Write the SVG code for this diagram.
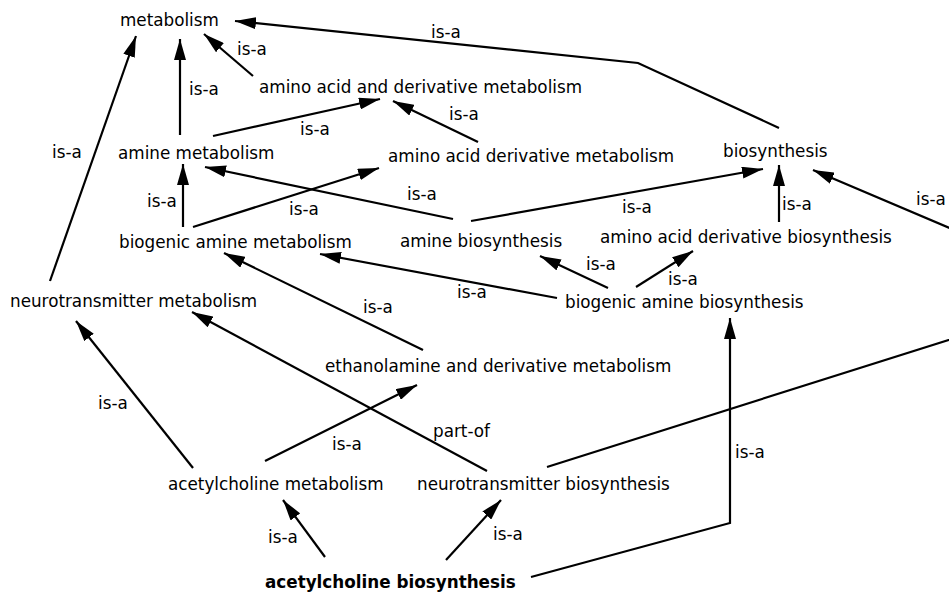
<svg xmlns="http://www.w3.org/2000/svg" width="949" height="592" viewBox="0 0 949 592">
<defs>
<marker id="arr" markerUnits="userSpaceOnUse" markerWidth="21" markerHeight="12" refX="21" refY="6" orient="auto" viewBox="0 0 21 12">
<path d="M0,0 L21,6 L0,12 z" fill="#000"/>
</marker>
<style>
text{font-family:"DejaVu Sans","Liberation Sans",sans-serif;font-size:16.8px;fill:#000}
.b{font-weight:bold}
#edges line,#edges polyline{stroke:#000;stroke-width:2.2;fill:none;marker-end:url(#arr)}
</style>
</defs>
<rect width="949" height="592" fill="#fff"/>
<g id="edges">
<line x1="253" y1="76" x2="204" y2="34"/>
<line x1="180" y1="135" x2="180" y2="39"/>
<line x1="50" y1="281" x2="136" y2="36"/>
<polyline points="779,128 638,63 235,21"/>
<line x1="213" y1="136" x2="380" y2="99"/>
<line x1="478" y1="142" x2="393" y2="101"/>
<line x1="183" y1="227" x2="183" y2="164"/>
<line x1="193" y1="227" x2="379" y2="168"/>
<line x1="453" y1="219" x2="205" y2="167"/>
<line x1="471" y1="221" x2="763" y2="169"/>
<line x1="779" y1="222" x2="779" y2="165"/>
<polyline points="547,467 1100,292 813,170"/>
<line x1="608" y1="288" x2="540" y2="256"/>
<line x1="636" y1="287" x2="693" y2="251"/>
<line x1="557" y1="298" x2="320" y2="254"/>
<line x1="423" y1="350" x2="224" y2="253"/>
<line x1="193" y1="468" x2="76" y2="321"/>
<line x1="265" y1="461" x2="417" y2="385"/>
<line x1="487" y1="471" x2="192" y2="312"/>
<line x1="325" y1="557" x2="283" y2="500"/>
<line x1="446" y1="560" x2="501" y2="500"/>
<polyline points="531,577 730,523 730,318"/>
<text x="237" y="55">is-a</text>
<text x="189" y="95">is-a</text>
<text x="52" y="158">is-a</text>
<text x="431" y="38">is-a</text>
<text x="300" y="135">is-a</text>
<text x="449" y="120">is-a</text>
<text x="147" y="207">is-a</text>
<text x="289" y="215">is-a</text>
<text x="407" y="200">is-a</text>
<text x="622" y="213">is-a</text>
<text x="782" y="210">is-a</text>
<text x="916" y="205">is-a</text>
<text x="586" y="270">is-a</text>
<text x="668" y="285">is-a</text>
<text x="457" y="298">is-a</text>
<text x="363" y="313">is-a</text>
<text x="98" y="409">is-a</text>
<text x="332" y="450">is-a</text>
<text x="433" y="437">part-of</text>
<text x="268" y="543">is-a</text>
<text x="493" y="540">is-a</text>
<text x="735" y="458">is-a</text>
</g>
<g id="n_metabolism"><text x="120" y="26">metabolism</text></g>
<g id="n_aa_and_deriv_met"><text x="259" y="93">amino acid and derivative metabolism</text></g>
<g id="n_amine_met"><text x="118" y="159">amine metabolism</text></g>
<g id="n_aa_deriv_met"><text x="388" y="162">amino acid derivative metabolism</text></g>
<g id="n_biosynthesis"><text x="723" y="157">biosynthesis</text></g>
<g id="n_biogenic_amine_met"><text x="119" y="248">biogenic amine metabolism</text></g>
<g id="n_amine_bio"><text x="400" y="247">amine biosynthesis</text></g>
<g id="n_aa_deriv_bio"><text x="600" y="243">amino acid derivative biosynthesis</text></g>
<g id="n_biogenic_amine_bio"><text x="565" y="308">biogenic amine biosynthesis</text></g>
<g id="n_neurotrans_met"><text x="10" y="307">neurotransmitter metabolism</text></g>
<g id="n_ethanolamine_met"><text x="325" y="372">ethanolamine and derivative metabolism</text></g>
<g id="n_acetylcholine_met"><text x="168" y="490">acetylcholine metabolism</text></g>
<g id="n_neurotrans_bio"><text x="417" y="490">neurotransmitter biosynthesis</text></g>
<g id="n_acetylcholine_bio"><text class="b" x="265" y="588">acetylcholine biosynthesis</text></g>
</svg>
